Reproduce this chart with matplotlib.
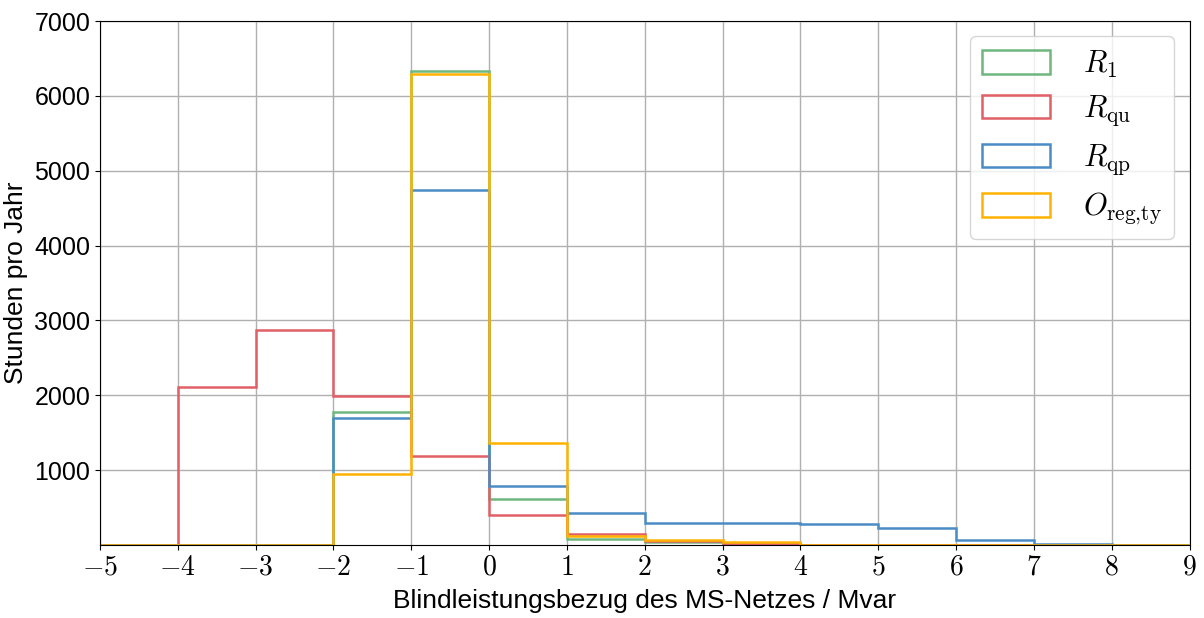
import numpy as np
import matplotlib
matplotlib.use('Agg')
import matplotlib.pyplot as plt
from matplotlib.patches import Patch
from matplotlib.ticker import FuncFormatter

plt.rcParams['mathtext.fontset'] = 'cm'
plt.rcParams['font.family'] = ['Liberation Sans', 'DejaVu Sans']

# bin edges in Mvar
edges = np.arange(-5, 10, 1)

# hours per year in each bin
r_1 = [0, 0, 0, 1780, 6330, 615, 78, 40, 10, 0, 0, 0, 0, 0]
r_qu = [0, 2110, 2870, 1990, 1190, 400, 150, 50, 20, 0, 0, 0, 0, 0]
r_qp = [0, 0, 0, 1700, 4740, 790, 430, 298, 290, 276, 227, 63, 20, 5]
o_reg = [0, 0, 0, 950, 6290, 1360, 120, 65, 35, 0, 0, 0, 0, 0]

labels = [r'$R_1$', r'$R_\mathrm{qu}$', r'$R_\mathrm{qp}$', r'$O_\mathrm{reg{,}ty}$']
colors = ['#6db77f', '#e06065', '#4a8cc6', '#ffb300']

fig, ax = plt.subplots(figsize=(12.04, 6.18), dpi=100)
fig.subplots_adjust(left=0.083, right=0.988, top=0.966, bottom=0.118)

for vals, col in zip([r_1, r_qu, r_qp, o_reg], colors):
    ax.stairs(vals, edges, color=col, linewidth=1.8, baseline=0)

ax.set_xlim(-5, 9)
ax.set_ylim(0, 7000)
ax.set_xticks(np.arange(-5, 10, 1))
ax.set_yticks(np.arange(1000, 7001, 1000))
ax.xaxis.set_major_formatter(FuncFormatter(lambda v, p: r'$%d$' % v))
ax.tick_params(axis='x', labelsize=20)
ax.tick_params(axis='y', labelsize=18)
ax.grid(True, color='#b0b0b0', linewidth=1)
ax.set_axisbelow(True)

ax.set_xlabel('Blindleistungsbezug des MS-Netzes / Mvar', fontsize=19, labelpad=6)
ax.set_ylabel('Stunden pro Jahr', fontsize=19)
ax.yaxis.set_label_coords(-0.066, 0.5)

handles = [Patch(facecolor='none', edgecolor=c, linewidth=1.8) for c in colors]
ax.legend(handles, labels, loc='upper right', fontsize=22, handlelength=2.2,
          handleheight=0.8, labelspacing=0.45, borderpad=0.4, handletextpad=1.1,
          borderaxespad=0.5)

plt.savefig('out.png')
